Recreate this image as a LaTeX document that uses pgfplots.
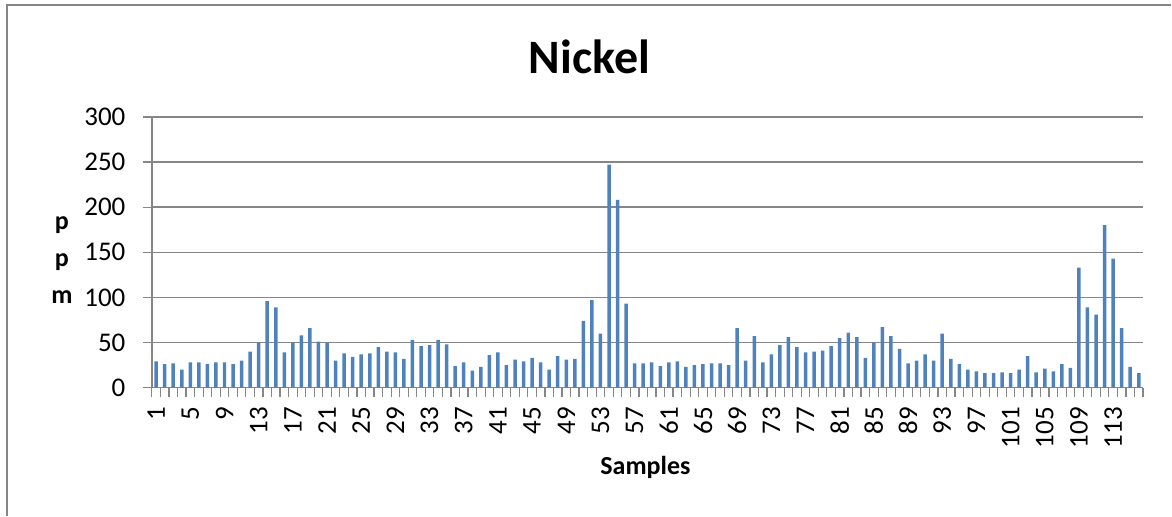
\documentclass[border=0pt]{standalone}
\usepackage{pgfplots}
\pgfplotsset{compat=1.18}
\usepackage{fontspec}
\setmainfont{Carlito}
\definecolor{gridgray}{RGB}{134,134,134}
\definecolor{barblue}{RGB}{79,129,189}

\begin{document}
\begin{tikzpicture}
	% page size and chart frame (cut at right and bottom)
	\path (0pt,0pt) rectangle (1172pt,516pt);
	\draw[gridgray, line width=2pt] (7pt,0pt) -- (7pt,511pt) -- (1172pt,511pt);

	\begin{axis}[
		at={(152pt,128pt)}, anchor=south west,
		scale only axis,
		width=992pt, height=271pt,
		ybar, bar width=3.5pt,
		xmin=0.5, xmax=116.5,
		ymin=0, ymax=300,
		axis lines*=left,
		axis line style={gridgray, line width=1.5pt},
		ytick={0,50,...,300},
		xtick={1,5,...,113},
		minor xtick={0.5,1.5,...,116.5},
		tick align=outside,
		major tick length=9pt,
		minor tick length=9pt,
		major x tick style={draw=none},
		minor x tick style={gridgray, line width=1.2pt},
		major y tick style={gridgray, line width=1.2pt},
		ymajorgrids,
		grid style={gridgray, line width=1.5pt},
		/pgf/number format/assume math mode=true,
		tick label style={font=\fontsize{27}{32}\selectfont},
		xticklabel shift=7pt,
		xticklabel style={rotate=90, anchor=east},
		yticklabel style={xshift=-14pt},
		]
		\addplot[fill=barblue, draw=none] coordinates {
			(1,29) (2,26) (3,27) (4,20) (5,28) (6,28) (7,26) (8,28) (9,28) (10,26)
			(11,30) (12,40) (13,50) (14,96) (15,89) (16,39) (17,50) (18,58) (19,66) (20,51)
			(21,50) (22,30) (23,38) (24,34) (25,37) (26,38) (27,45) (28,40) (29,39) (30,32)
			(31,53) (32,46) (33,47) (34,53) (35,48) (36,24) (37,28) (38,19) (39,23) (40,36)
			(41,39) (42,25) (43,31) (44,29) (45,33) (46,28) (47,20) (48,35) (49,31) (50,32)
			(51,74) (52,97) (53,60) (54,247) (55,208) (56,93) (57,27) (58,27) (59,28) (60,24)
			(61,28) (62,29) (63,23) (64,25) (65,26) (66,27) (67,27) (68,25) (69,66) (70,30)
			(71,57) (72,28) (73,37) (74,47) (75,56) (76,45) (77,39) (78,40) (79,41) (80,46)
			(81,55) (82,61) (83,56) (84,33) (85,50) (86,67) (87,57) (88,43) (89,27) (90,30)
			(91,37) (92,30) (93,60) (94,32) (95,26) (96,20) (97,18) (98,16) (99,16) (100,17)
			(101,16) (102,20) (103,35) (104,17) (105,21) (106,18) (107,26) (108,22) (109,133) (110,89)
			(111,81) (112,180) (113,143) (114,66) (115,23) (116,16)
		};
	\end{axis}

	% title and axis labels
	\node[font=\fontsize{48}{56}\selectfont\bfseries] at (590pt,459pt) {Nickel};
	\node[font=\fontsize{26}{31}\selectfont\bfseries] at (646pt,48pt) {Samples};
	\node[font=\fontsize{26}{37}\selectfont\bfseries, align=center] at (62pt,256pt) {p\\p\\m};
\end{tikzpicture}
\end{document}
